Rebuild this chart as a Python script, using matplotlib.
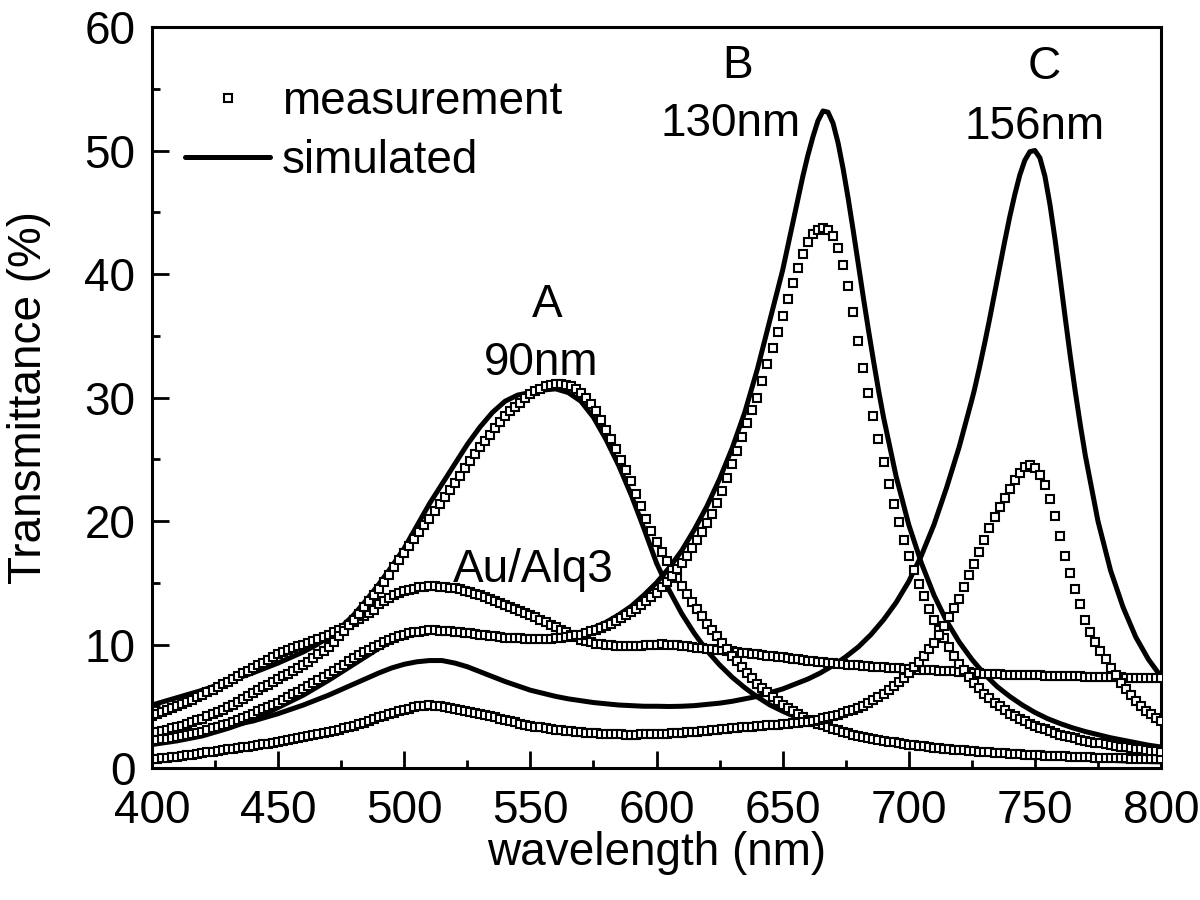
import numpy as np
import matplotlib
matplotlib.use("Agg")
import matplotlib.pyplot as plt
from matplotlib.lines import Line2D
from matplotlib.ticker import MultipleLocator

plt.rcParams['font.family'] = ['Liberation Sans', 'DejaVu Sans']

# ---------------- data ----------------
meas_wl = list(range(400, 801, 2))

meas_au_alq3 = [
    4.20, 4.36, 4.52, 4.68, 4.84,
    5.00, 5.18, 5.36, 5.54, 5.72,
    5.90, 6.12, 6.34, 6.56, 6.78,
    7.00, 7.22, 7.44, 7.66, 7.88,
    8.10, 8.32, 8.54, 8.76, 8.98,
    9.20, 9.38, 9.54, 9.70, 9.85,
    10.00, 10.15, 10.30, 10.46, 10.63,
    10.80, 10.98, 11.17, 11.37, 11.58,
    11.80, 12.05, 12.30, 12.55, 12.80,
    13.30, 13.55, 13.78, 13.98, 14.15,
    14.30, 14.42, 14.53, 14.62, 14.68,
    14.70, 14.70, 14.68, 14.65, 14.60,
    14.55, 14.46, 14.36, 14.24, 14.12,
    14.00, 13.84, 13.68, 13.52, 13.36,
    13.20, 13.04, 12.88, 12.72, 12.56,
    12.40, 12.20, 12.00, 11.80, 11.60,
    11.40, 11.20, 11.00, 10.80, 10.60,
    10.40, 10.28, 10.17, 10.08, 10.01,
    9.95, 9.92, 9.89, 9.87, 9.86,
    9.85, 9.87, 9.90, 9.94, 9.97,
    10.00, 10.01, 10.00, 9.97, 9.94,
    9.90, 9.85, 9.80, 9.75, 9.70,
    9.65, 9.61, 9.57, 9.53, 9.49,
    9.45, 9.40, 9.35, 9.30, 9.25,
    9.20, 9.15, 9.10, 9.05, 9.00,
    8.95, 8.90, 8.85, 8.80, 8.75,
    8.70, 8.66, 8.62, 8.58, 8.54,
    8.50, 8.46, 8.42, 8.38, 8.34,
    8.30, 8.27, 8.24, 8.21, 8.18,
    8.15, 8.12, 8.09, 8.06, 8.03,
    8.00, 7.98, 7.96, 7.94, 7.92,
    7.90, 7.88, 7.86, 7.84, 7.82,
    7.80, 7.77, 7.74, 7.71, 7.68,
    7.65, 7.63, 7.61, 7.59, 7.57,
    7.55, 7.54, 7.53, 7.52, 7.51,
    7.50, 7.49, 7.48, 7.47, 7.46,
    7.45, 7.44, 7.43, 7.42, 7.41,
    7.40, 7.39, 7.38, 7.37, 7.36,
    7.35, 7.34, 7.33, 7.32, 7.31,
    7.30, 7.30, 7.30, 7.30, 7.30,
    7.30,
]

meas_a = [
    2.80, 2.90, 3.00, 3.10, 3.20,
    3.30, 3.44, 3.58, 3.72, 3.86,
    4.00, 4.18, 4.36, 4.54, 4.72,
    4.90, 5.14, 5.38, 5.62, 5.86,
    6.10, 6.32, 6.54, 6.76, 6.98,
    7.20, 7.42, 7.64, 7.86, 8.08,
    8.30, 8.60, 8.90, 9.20, 9.50,
    9.80, 10.24, 10.68, 11.12, 11.56,
    12.00, 12.50, 13.00, 13.50, 14.00,
    14.50, 15.08, 15.66, 16.24, 16.82,
    17.40, 17.96, 18.52, 19.08, 19.64,
    20.20, 20.78, 21.36, 21.94, 22.52,
    23.10, 23.68, 24.26, 24.84, 25.42,
    26.00, 26.50, 27.00, 27.50, 28.00,
    28.50, 28.88, 29.24, 29.58, 29.92,
    30.30, 30.50, 30.70, 30.90, 31.00,
    31.10, 31.10, 31.00, 30.90, 30.70,
    30.40, 30.00, 29.50, 28.90, 28.20,
    27.40, 26.60, 25.80, 24.95, 24.10,
    23.20, 22.20, 21.20, 20.20, 19.20,
    18.30, 17.50, 16.75, 16.05, 15.35,
    14.70, 14.08, 13.48, 12.90, 12.30,
    11.70, 11.18, 10.66, 10.14, 9.62,
    9.10, 8.64, 8.18, 7.72, 7.26,
    6.80, 6.46, 6.12, 5.78, 5.44,
    5.10, 4.86, 4.62, 4.38, 4.14,
    3.90, 3.75, 3.60, 3.45, 3.30,
    3.15, 3.04, 2.93, 2.82, 2.71,
    2.60, 2.52, 2.44, 2.36, 2.28,
    2.20, 2.14, 2.08, 2.02, 1.96,
    1.90, 1.85, 1.80, 1.75, 1.70,
    1.65, 1.61, 1.57, 1.53, 1.49,
    1.45, 1.42, 1.39, 1.36, 1.33,
    1.30, 1.27, 1.24, 1.21, 1.18,
    1.15, 1.13, 1.11, 1.09, 1.07,
    1.05, 1.03, 1.01, 0.99, 0.97,
    0.95, 0.94, 0.92, 0.91, 0.89,
    0.88, 0.86, 0.85, 0.83, 0.82,
    0.80, 0.79, 0.78, 0.77, 0.76,
    0.75, 0.74, 0.73, 0.72, 0.71,
    0.70,
]

meas_b = [
    2.20, 2.26, 2.32, 2.38, 2.44,
    2.50, 2.59, 2.68, 2.77, 2.86,
    2.95, 3.08, 3.21, 3.34, 3.47,
    3.60, 3.76, 3.92, 4.08, 4.24,
    4.40, 4.58, 4.76, 4.94, 5.12,
    5.30, 5.52, 5.74, 5.96, 6.18,
    6.40, 6.64, 6.88, 7.12, 7.36,
    7.60, 7.86, 8.12, 8.38, 8.64,
    8.90, 9.14, 9.36, 9.58, 9.80,
    10.00, 10.18, 10.35, 10.52, 10.67,
    10.80, 10.90, 10.98, 11.05, 11.10,
    11.15, 11.15, 11.13, 11.10, 11.08,
    11.05, 11.00, 10.95, 10.90, 10.85,
    10.80, 10.75, 10.70, 10.65, 10.60,
    10.55, 10.53, 10.51, 10.49, 10.47,
    10.45, 10.45, 10.46, 10.47, 10.48,
    10.50, 10.55, 10.61, 10.67, 10.73,
    10.80, 10.92, 11.06, 11.20, 11.35,
    11.50, 11.70, 11.92, 12.14, 12.37,
    12.60, 12.90, 13.22, 13.54, 13.87,
    14.20, 14.64, 15.10, 15.58, 16.08,
    16.60, 17.20, 17.82, 18.46, 19.12,
    19.80, 20.60, 21.45, 22.40, 23.45,
    24.60, 25.70, 26.80, 27.90, 29.00,
    30.00, 31.30, 32.70, 34.00, 35.30,
    36.60, 38.00, 39.30, 40.50, 41.60,
    42.60, 43.20, 43.60, 43.70, 43.60,
    43.10, 42.10, 40.70, 39.00, 36.90,
    34.60, 32.40, 30.40, 28.50, 26.60,
    24.80, 23.00, 21.40, 19.90, 18.50,
    17.20, 16.00, 14.90, 13.90, 12.90,
    12.00, 11.20, 10.50, 9.80, 9.10,
    8.40, 7.90, 7.40, 6.90, 6.45,
    6.00, 5.65, 5.30, 4.98, 4.68,
    4.40, 4.20, 4.00, 3.80, 3.60,
    3.40, 3.26, 3.12, 2.98, 2.84,
    2.70, 2.60, 2.50, 2.40, 2.30,
    2.20, 2.13, 2.06, 1.99, 1.92,
    1.85, 1.79, 1.73, 1.67, 1.61,
    1.55, 1.50, 1.45, 1.40, 1.35,
    1.30,
]

meas_c = [
    0.70, 0.74, 0.78, 0.82, 0.86,
    0.90, 0.96, 1.02, 1.08, 1.14,
    1.20, 1.26, 1.32, 1.38, 1.44,
    1.50, 1.56, 1.62, 1.68, 1.74,
    1.80, 1.86, 1.92, 1.98, 2.04,
    2.10, 2.18, 2.26, 2.34, 2.42,
    2.50, 2.58, 2.66, 2.74, 2.82,
    2.90, 3.00, 3.10, 3.20, 3.30,
    3.40, 3.54, 3.68, 3.82, 3.96,
    4.10, 4.22, 4.34, 4.46, 4.58,
    4.70, 4.80, 4.90, 4.98, 5.05,
    5.08, 5.06, 5.02, 4.96, 4.88,
    4.80, 4.72, 4.64, 4.56, 4.48,
    4.40, 4.30, 4.20, 4.10, 4.00,
    3.90, 3.80, 3.70, 3.60, 3.50,
    3.40, 3.34, 3.28, 3.22, 3.16,
    3.10, 3.06, 3.02, 2.98, 2.94,
    2.90, 2.87, 2.84, 2.81, 2.78,
    2.75, 2.74, 2.73, 2.72, 2.71,
    2.70, 2.71, 2.72, 2.73, 2.74,
    2.75, 2.77, 2.79, 2.81, 2.83,
    2.85, 2.88, 2.91, 2.94, 2.97,
    3.00, 3.04, 3.08, 3.12, 3.16,
    3.20, 3.24, 3.28, 3.32, 3.36,
    3.40, 3.43, 3.46, 3.49, 3.52,
    3.55, 3.59, 3.63, 3.67, 3.71,
    3.75, 3.83, 3.92, 4.01, 4.10,
    4.20, 4.32, 4.45, 4.58, 4.71,
    4.85, 5.06, 5.28, 5.52, 5.76,
    6.00, 6.30, 6.62, 6.96, 7.32,
    7.70, 8.15, 8.62, 9.10, 9.60,
    10.10, 10.80, 11.50, 12.20, 12.95,
    13.70, 14.65, 15.60, 16.55, 17.50,
    18.50, 19.40, 20.30, 21.10, 21.90,
    22.60, 23.30, 23.90, 24.40, 24.50,
    24.30, 23.70, 22.90, 21.80, 20.40,
    18.80, 17.20, 15.80, 14.50, 13.30,
    12.00, 11.00, 10.20, 9.50, 8.80,
    8.10, 7.50, 6.90, 6.40, 5.90,
    5.40, 5.00, 4.65, 4.35, 4.05,
    3.80,
]

sim_a_wl = list(range(400, 801, 5))
sim_a = [
    5.1, 5.4, 5.7, 6.0, 6.3, 6.65, 7.0, 7.35, 7.7, 8.1,
    8.5, 8.95, 9.4, 9.95, 10.6, 11.4, 12.4, 13.6, 14.9, 16.3,
    17.8, 19.6, 21.4, 23.0, 24.6, 26.2, 27.6, 28.8, 29.7, 30.2,
    30.4, 30.6, 30.7, 30.4, 29.7, 28.4, 26.6, 24.5, 22.1, 19.4,
    16.6, 14.4, 12.5, 10.9, 9.5, 8.35, 7.35, 6.5, 5.75, 5.1,
    4.6, 4.15, 3.75, 3.4, 3.1, 2.85, 2.6, 2.4, 2.2, 2.05,
    1.9, 1.75, 1.6, 1.5, 1.4, 1.3, 1.2, 1.12, 1.05, 0.98,
    0.92, 0.86, 0.8, 0.75, 0.7, 0.66, 0.62, 0.58, 0.55, 0.52,
    0.5,
]

sim_b_wl = list(range(400, 650, 5)) + list(range(650, 690, 2)) + list(range(690, 801, 5))
sim_b = [
    1.9, 2.05, 2.2, 2.4, 2.6, 2.9, 3.2, 3.55, 3.9, 4.4,
    4.9, 5.4, 5.9, 6.5, 7.1, 7.75, 8.4, 9.05, 9.7, 10.25,
    10.7, 11.0, 11.15, 11.15, 11.05, 10.9, 10.75, 10.6, 10.5, 10.45,
    10.4, 10.45, 10.55, 10.75, 11.0, 11.35, 11.8, 12.4, 13.1, 14.0,
    15.0, 16.2, 17.6, 19.3, 21.2, 23.4, 25.9, 28.8, 32.3, 36.3,
    40.3, 42.2, 44.1, 46.0, 47.9, 49.6, 51.1, 52.4, 53.2, 53.1,
    52.2, 50.6, 48.5, 46.1, 43.5, 40.8, 38.1, 35.5, 33.0, 30.6,
    28.4, 23.6, 19.7, 16.6, 14.0, 11.9, 10.2, 8.8, 7.6, 6.6,
    5.8, 5.1, 4.5, 4.0, 3.6, 3.25, 2.95, 2.7, 2.45, 2.25,
    2.05, 1.85, 1.7,
]

sim_c_wl = list(range(400, 726, 5)) + list(range(726, 771, 2)) + list(range(775, 801, 5))
sim_c = [
    2.4, 2.55, 2.7, 2.85, 3.0, 3.2, 3.4, 3.6, 3.8, 4.1,
    4.4, 4.75, 5.1, 5.5, 5.9, 6.35, 6.8, 7.25, 7.7, 8.1,
    8.4, 8.6, 8.7, 8.7, 8.5, 8.2, 7.8, 7.4, 7.0, 6.65,
    6.3, 6.05, 5.8, 5.6, 5.45, 5.3, 5.2, 5.1, 5.05, 5.0,
    5.0, 4.98, 5.0, 5.05, 5.15, 5.25, 5.4, 5.6, 5.8, 6.1,
    6.4, 6.8, 7.2, 7.7, 8.3, 9.0, 9.8, 10.8, 12.0, 13.4,
    15.1, 17.2, 19.7, 22.7, 26.0, 29.8,
    30.6, 32.4, 34.3, 36.3, 38.4, 40.5, 42.6, 44.6, 46.4, 48.0,
    49.2, 49.9, 50.0, 49.4, 47.9, 45.6, 42.8, 39.7, 36.5, 33.4,
    30.5, 27.8, 25.3,
    20.0, 16.0, 13.0, 10.6, 8.8, 7.4,
]

labels = [
    # text, x, y (data coordinates, baseline)
    ("A", 556.8, 36.5),
    ("90nm", 554.1, 31.8),
    ("B", 632.3, 55.9),
    ("130nm", 629.5, 51.2),
    ("C", 753.7, 55.8),
    ("156nm", 749.8, 50.95),
    ("Au/Alq3", 551.0, 15.1),
]

# ---------------- figure ----------------
fig = plt.figure(figsize=(12, 9), dpi=100)
ax = fig.add_axes([152 / 1200, 1 - 768 / 900, (1161 - 152) / 1200, (768 - 27) / 900])

line_kw = dict(color='black', lw=3.6, solid_capstyle='round', solid_joinstyle='round', zorder=2)
mark_kw = dict(ls='none', marker='s', ms=5.3, mfc='white', mec='black', mew=1.5, zorder=3)

for wl, y in [(sim_a_wl, sim_a), (sim_b_wl, sim_b), (sim_c_wl, sim_c)]:
    ax.plot(wl, y, **line_kw)

for y in [meas_au_alq3, meas_a, meas_b, meas_c]:
    ax.plot(meas_wl, y, **mark_kw)

ax.set_xlim(400, 800)
ax.set_ylim(0, 60)
ax.xaxis.set_major_locator(MultipleLocator(50))
ax.xaxis.set_minor_locator(MultipleLocator(25))
ax.yaxis.set_major_locator(MultipleLocator(10))
ax.yaxis.set_minor_locator(MultipleLocator(5))

ax.tick_params(which='both', direction='in', top=False, right=False, width=2, labelsize=33)
ax.tick_params(which='major', length=12)
ax.tick_params(which='minor', length=6)
ax.tick_params(axis='x', pad=15)
ax.tick_params(axis='y', pad=12)
for s in ax.spines.values():
    s.set_linewidth(2.2)

ax.set_xlabel('wavelength (nm)', fontsize=33)
ax.set_ylabel('Transmittance (%)', fontsize=33)
ax.xaxis.set_label_coords(0.5, -0.085)
ax.yaxis.set_label_coords(-0.100, 0.5)

for txt, x, y in labels:
    ax.text(x, y, txt, fontsize=33, ha='center', va='baseline')

handles = [
    Line2D([], [], ls='none', marker='s', ms=5.3, mfc='white', mec='black', mew=1.5),
    Line2D([], [], color='black', lw=3.6, solid_capstyle='round'),
]
ax.legend(handles, ['measurement', 'simulated'], loc='upper left',
          bbox_to_anchor=(0.0327, 0.928), frameon=False, fontsize=33,
          handlelength=1.86, handletextpad=0.25, labelspacing=0.33,
          borderpad=0, borderaxespad=0)

fig.savefig('out.png', dpi=100)
